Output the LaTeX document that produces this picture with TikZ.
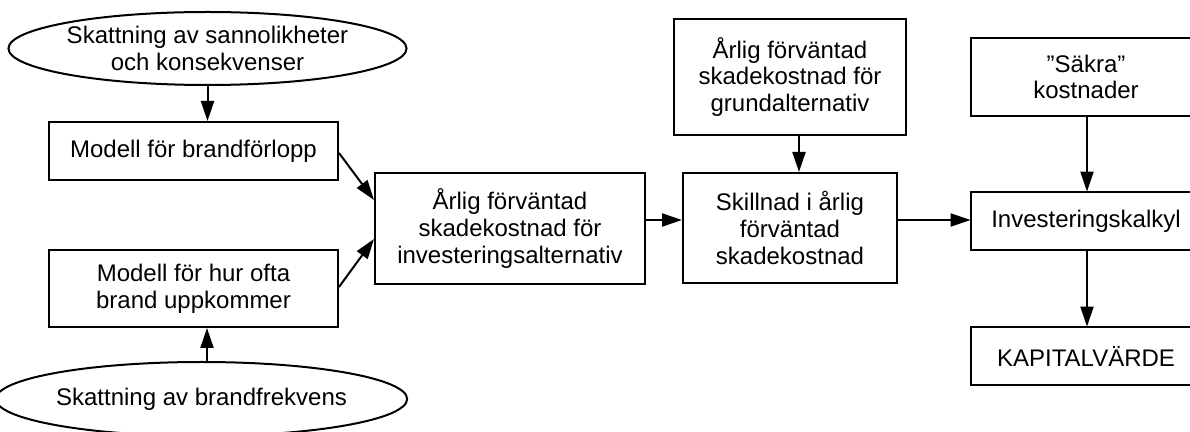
\documentclass[tikz,border=0pt]{standalone}
\usepackage{fontspec}
\setmainfont{Liberation Sans}
\usetikzlibrary{shapes.geometric,arrows.meta}
\begin{document}
\begin{tikzpicture}[x=0.5pt,y=-0.5pt,
  every node/.style={font=\fontsize{12pt}{13.3pt}\selectfont, align=center, inner sep=0pt},
  box/.style={draw, line width=1pt, rectangle},
  openbox/.style={rectangle},
  oval/.style={draw, line width=1pt, ellipse},
  arr/.style={line width=1pt, -{Triangle[length=10pt,width=6.5pt]}}]
\useasboundingbox (0,0) rectangle (1190,432);
\fill[white] (0,0) rectangle (1190,432);
\clip (0,0) rectangle (1190,432);

\node[oval, minimum width=192.5pt, minimum height=36.5pt] (e1) at (207.5,48.5) {Skattning av sannolikheter\\och konsekvenser};
\node[box, minimum width=144.5pt, minimum height=29pt] (b1) at (193.5,151) {Modell för brandförlopp};
\node[box, minimum width=144.5pt, minimum height=38.5pt] (b2) at (193.5,288.5) {Modell för hur ofta\\brand uppkommer};
\node[oval, minimum width=193.5pt, minimum height=37pt] (e2) at (201.5,399) {Skattning av brandfrekvens};
\node[box, minimum width=135pt, minimum height=55.5pt] (b3) at (510,228.5) {Årlig förväntad\\skadekostnad för\\investeringsalternativ};
\node[box, minimum width=107pt, minimum height=55pt] (b4) at (790,228) {Skillnad i årlig\\förväntad\\skadekostnad};
\node[box, minimum width=116pt, minimum height=58pt] (b5) at (790,77) {Årlig förväntad\\skadekostnad för\\grundalternativ};
\node[openbox, minimum width=115pt, minimum height=39pt] (b6) at (1086,77) {”Säkra”\\kostnader};
\node[openbox, minimum width=115pt, minimum height=29pt] (b7) at (1086,221) {Investeringskalkyl};
\node[openbox, minimum width=115pt, minimum height=29pt] (b8) at (1086,356) {KAPITALVÄRDE};
\foreach \n in {b6,b7,b8}
  \draw[line width=1pt] ([xshift=40pt]\n.north east) -- (\n.north west) -- (\n.south west) -- ([xshift=40pt]\n.south east);

\draw[arr] (e1.south) -- (e1.south |- b1.north);
\draw[arr] (207,0 |- e2.north) -- (207,0 |- b2.south);
\draw[arr] (b1.east |- 0,153) -- (b3.west |- 0,200);
\draw[arr] (b2.east |- 0,287) -- (b3.west |- 0,239);
\draw[arr] (b3.east |- 0,220) -- (b4.west |- 0,220);
\draw[arr] (799,0 |- b5.south) -- (799,0 |- b4.north);
\draw[arr] (b4.east |- 0,220) -- (b7.west |- 0,220);
\draw[arr] (1087,0 |- b6.south) -- (1087,0 |- b7.north);
\draw[arr] (1087,0 |- b7.south) -- (1087,0 |- b8.north);
\end{tikzpicture}
\end{document}
